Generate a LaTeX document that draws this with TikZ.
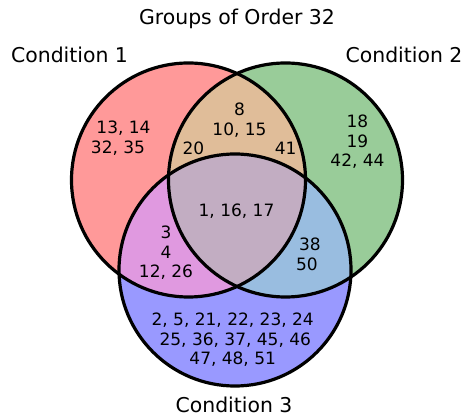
\documentclass[tikz,border=0pt]{standalone}
\usepackage{fontspec}
\setmainfont{DejaVu Sans}
\definecolor{cA}{HTML}{FF9999}
\definecolor{cB}{HTML}{99CC99}
\definecolor{cC}{HTML}{9999FF}
\definecolor{cAB}{HTML}{E0BD99}
\definecolor{cAC}{HTML}{E099E0}
\definecolor{cBC}{HTML}{99BDE0}
\definecolor{cABC}{HTML}{C2ADC2}
\begin{document}
\begin{tikzpicture}[x=1pt,y=-1pt,
  lbl/.style={inner sep=0pt, anchor=base, font=\fontsize{17}{19.5}\selectfont},
  setlbl/.style={inner sep=0pt, anchor=base, font=\fontsize{20.4}{24}\selectfont},
  ring/.style={draw=black, line width=3.2pt}]
\useasboundingbox (0,0) rectangle (469,419);
\def\circA{(188.5,180) circle[radius=117]}
\def\circB{(285.5,180) circle[radius=117]}
\def\circC{(235,270) circle[radius=116]}
% base fills
\fill[cA] \circA;
\fill[cB] \circB;
\fill[cC] \circC;
\begin{scope}\clip \circA; \fill[cAB] \circB;\end{scope}
\begin{scope}\clip \circA; \fill[cAC] \circC;\end{scope}
\begin{scope}\clip \circB; \fill[cBC] \circC;\end{scope}
\begin{scope}\clip \circA; \clip \circB; \fill[cABC] \circC;\end{scope}
% outlines
\draw[ring] \circA;
\draw[ring] \circB;
\draw[ring] \circC;
% title and set labels
\node[setlbl] (title) at (237,25) {Groups of Order 32};
\node[setlbl] (set1) at (69.5,63) {Condition 1};
\node[setlbl] (set2) at (404,63) {Condition 2};
\node[setlbl] (set3) at (234,413) {Condition 3};
% region 100
\node[lbl] (r100a) at (123.5,134) {13, 14};
\node[lbl] (r100b) at (118,153.5) {32, 35};
% region 110
\node[lbl] (r110a) at (239.5,116) {8};
\node[lbl] (r110b) at (239.5,135.5) {10, 15};
\node[lbl] (r110c) at (239.5,155) {20\hspace{70.5pt}41};
% region 010
\node[lbl] (r010a) at (357.5,128) {18};
\node[lbl] (r010b) at (357.5,147.5) {19};
\node[lbl] (r010c) at (357.5,167) {42, 44};
% region 111
\node[lbl] (r111) at (236.5,217) {1, 16, 17};
% region 101
\node[lbl] (r101a) at (166,239) {3};
\node[lbl] (r101b) at (166,258.5) {4};
\node[lbl] (r101c) at (166,278) {12, 26};
% region 011
\node[lbl] (r011a) at (310,251) {38};
\node[lbl] (r011b) at (307,270.5) {50};
% region 001
\node[lbl] (r001a) at (232.7,326) {2, 5, 21, 22, 23, 24};
\node[lbl] (r001b) at (235.3,345.5) {25, 36, 37, 45, 46};
\node[lbl] (r001c) at (232.7,365) {47, 48, 51};
\end{tikzpicture}
\end{document}
